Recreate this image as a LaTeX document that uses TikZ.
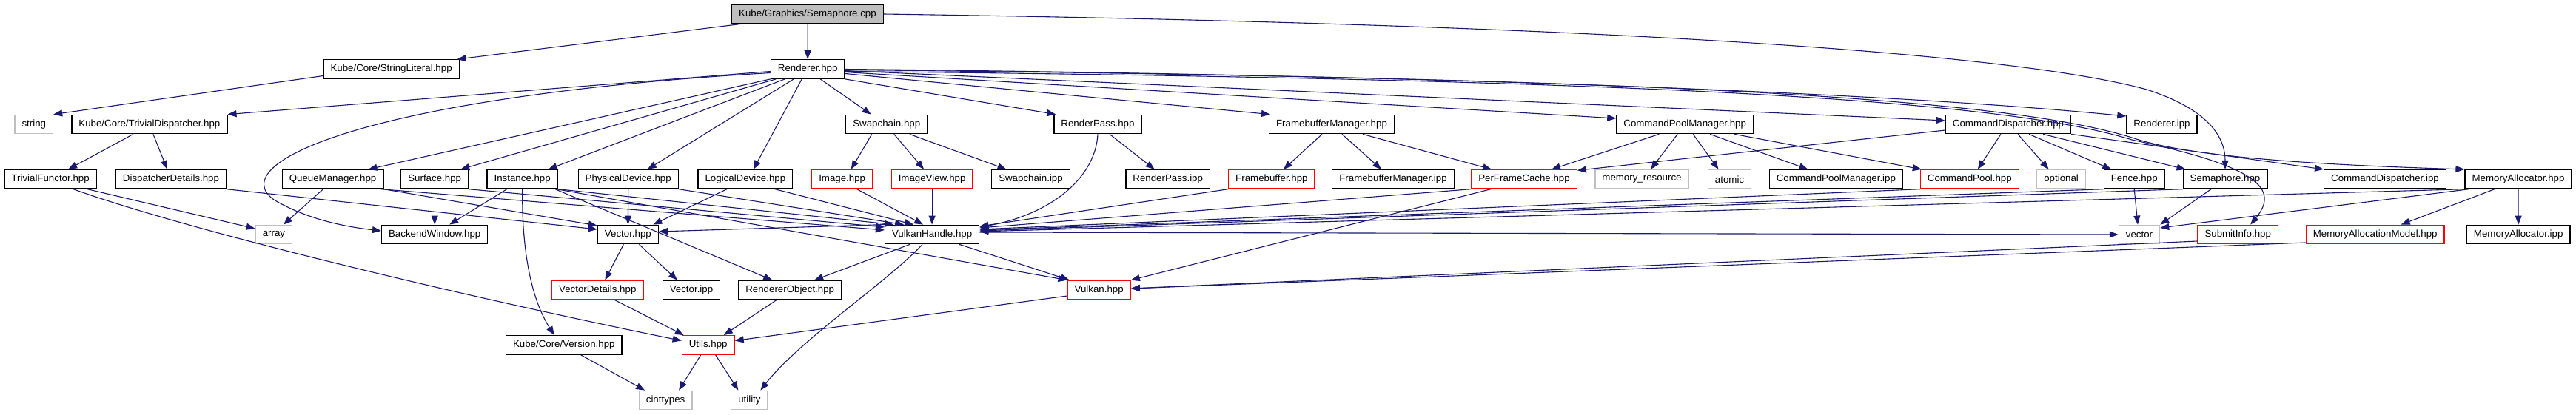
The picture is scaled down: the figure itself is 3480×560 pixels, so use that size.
\documentclass[tikz,border=0pt]{standalone}
\usepackage{fontspec}
\setmainfont{Liberation Sans}
\usepackage{tikz}
\usetikzlibrary{arrows.meta}
\definecolor{depblue}{HTML}{191970}
\definecolor{sysgray}{HTML}{BFBFBF}
\tikzset{
  incbox/.style ={rectangle, draw=black, line width=1.3pt, fill=white,
                  minimum height=25.5pt, inner xsep=9.5pt, inner ysep=0pt,
                  font=\fontsize{13.3}{16}\selectfont},
  incroot/.style={incbox, fill=sysgray},
  incred/.style ={incbox, draw=red},
  incsys/.style ={incbox, draw=sysgray},
  dep/.style    ={-{Triangle[length=12pt,width=9pt]}, line width=1.1pt, draw=depblue}
}

\begin{document}
\begin{tikzpicture}[x=1pt, y=-1pt]
  \useasboundingbox (0,0) rectangle (3480,560);

  \node[incroot] (cpp)      at (1091,19)     {Kube/Graphics/Semaphore.cpp};
  \node[incbox]  (strlit)   at (528.6,93.5)  {Kube/Core/StringLiteral.hpp};
  \node[incbox]  (rend)     at (1091.2,93.5) {Renderer.hpp};

  \node[incsys]  (str)      at (45.8,168)    {string};
  \node[incbox]  (tdisp)    at (201.9,168)   {Kube/Core/TrivialDispatcher.hpp};
  \node[incbox]  (swap)     at (1197.8,168)  {Swapchain.hpp};
  \node[incbox]  (rpass)    at (1483,168)    {RenderPass.hpp};
  \node[incbox]  (fbman)    at (1799,168)    {FramebufferManager.hpp};
  \node[incbox]  (cpman)    at (2276.2,168)  {CommandPoolManager.hpp};
  \node[incbox]  (cdisp)    at (2713,168)    {CommandDispatcher.hpp};
  \node[incbox]  (rendipp)  at (2920.5,168)  {Renderer.ipp};

  \node[incbox]  (tfunc)    at (68.1,242.3)   {TrivialFunctor.hpp};
  \node[incbox]  (ddet)     at (231,242.3)    {DispatcherDetails.hpp};
  \node[incbox]  (qman)     at (449.6,242.3)  {QueueManager.hpp};
  \node[incbox]  (surf)     at (587.2,242.3)  {Surface.hpp};
  \node[incbox]  (inst)     at (705.7,242.3)  {Instance.hpp};
  \node[incbox]  (pdev)     at (848.7,242.3)  {PhysicalDevice.hpp};
  \node[incbox]  (ldev)     at (1006.9,242.3) {LogicalDevice.hpp};
  \node[incred]  (img)      at (1137.7,242.3) {Image.hpp};
  \node[incred]  (imgv)     at (1259.1,242.3) {ImageView.hpp};
  \node[incbox]  (swapipp)  at (1392.5,242.3) {Swapchain.ipp};
  \node[incbox]  (rpassipp) at (1577.7,242.3) {RenderPass.ipp};
  \node[incred]  (fb)       at (1717.9,242.3) {Framebuffer.hpp};
  \node[incbox]  (fbmanipp) at (1882,242.3)   {FramebufferManager.ipp};
  \node[incred]  (pfc)      at (2059,242.3)   {PerFrameCache.hpp};
  \node[incsys]  (memres)   at (2218,242.3)   {memory\_resource};
  \node[incsys]  (atom)     at (2336.5,242.3) {atomic};
  \node[incbox]  (cpmanipp) at (2480.4,242.3) {CommandPoolManager.ipp};
  \node[incred]  (cpool)    at (2660.8,242.3) {CommandPool.hpp};
  \node[incsys]  (opt)      at (2784.6,242.3) {optional};
  \node[incbox]  (fence)    at (2883.2,242.3) {Fence.hpp};
  \node[incbox]  (sema)     at (3006,242.3)   {Semaphore.hpp};
  \node[incbox]  (cdispipp) at (3222,242.3)   {CommandDispatcher.ipp};
  \node[incbox]  (malloc)   at (3402,242.3)   {MemoryAllocator.hpp};

  \node[incsys]  (arr)       at (369.9,317)  {array};
  \node[incbox]  (bwin)      at (587.2,317)  {BackendWindow.hpp};
  \node[incbox]  (vec)       at (848.4,317)  {Vector.hpp};
  \node[incbox]  (vh)        at (1259.1,317) {VulkanHandle.hpp};
  \node[incsys]  (stdvec)    at (2890,317)   {vector};
  \node[incred]  (subinfo)   at (3023.2,317) {SubmitInfo.hpp};
  \node[incred]  (mamodel)   at (3208.7,317) {MemoryAllocationModel.hpp};
  \node[incbox]  (mallocipp) at (3402.2,317) {MemoryAllocator.ipp};

  \node[incred]  (vdet)     at (807.3,392)  {VectorDetails.hpp};
  \node[incbox]  (vecipp)   at (934,392)    {Vector.ipp};
  \node[incbox]  (robj)     at (1067.2,392) {RendererObject.hpp};
  \node[incred]  (vk)       at (1484.7,392) {Vulkan.hpp};

  \node[incbox]  (ver)      at (761.8,466.5) {Kube/Core/Version.hpp};
  \node[incred]  (utils)    at (956.7,466.5) {Utils.hpp};

  \node[incsys]  (cint)     at (899.1,541)  {cinttypes};
  \node[incsys]  (util)     at (1012.4,541) {utility};

  \draw[dep] ([xshift=-90pt]cpp.south) -- ([xshift=89pt]strlit.north);
  \draw[dep] (cpp) -- (rend);
  \draw[dep] (cpp.east) .. controls (2300,35) and (2750,80) .. (2900,121)
             .. controls (2990,150) and (3006,190) .. (sema.north);

  \draw[dep] ([yshift=-9pt]strlit.west) -- (str.north east);

  \draw[dep] ([yshift=-3pt]rend.west) -- (tdisp.north east);
  \draw[dep] ([yshift=-5pt]rend.west) .. controls (500,130) and (300,220) .. (370,270)
             .. controls (420,300) and (480,308) .. ([yshift=5pt]bwin.west);
  \draw[dep] (rend.south west) -- ([xshift=48pt]qman.north);
  \draw[dep] ([xshift=-43pt]rend.south) -- ([xshift=35pt]surf.north);
  \draw[dep] ([xshift=-31pt]rend.south) -- ([xshift=35pt]inst.north);
  \draw[dep] ([xshift=-19pt]rend.south) -- ([xshift=26pt]pdev.north);
  \draw[dep] ([xshift=-8pt]rend.south) -- ([xshift=11pt]ldev.north);
  \draw[dep] ([xshift=17pt]rend.south) -- ([xshift=-21pt]swap.north);
  \draw[dep] (rend.south east) -- ([xshift=3pt]rpass.north west);
  \draw[dep] ([yshift=-6pt]rend.east) -- ([xshift=2pt]fbman.north west);
  \draw[dep] ([yshift=-4pt]rend.east) -- ([yshift=8pt]cpman.west);
  \draw[dep] ([yshift=-2pt]rend.east) -- ([yshift=5pt]cdisp.west);
  \draw[dep] (rend.east) .. controls (1800,100) and (2500,120) .. ([yshift=11pt]rendipp.west);
  \draw[dep] ([yshift=-1pt]rend.east) .. controls (2200,105) and (2700,130) .. (2880,186)
             .. controls (2950,210) and (3100,222) .. (malloc.north west);
  \draw[dep] ([yshift=-3pt]rend.east) .. controls (2200,107) and (2700,133) .. (2880,189)
             .. controls (3050,225) and (3080,255) .. ([xshift=17pt]subinfo.north);

  \draw[dep] (cdisp.south east) -- (cdispipp.north west);
  \draw[dep] ([xshift=47pt]cdisp.south) -- ([xshift=4pt]sema.north west);
  \draw[dep] ([xshift=28pt]cdisp.south) -- ([xshift=-31pt]fence.north);
  \draw[dep] ([xshift=13pt]cdisp.south) -- ([xshift=-17pt]opt.north);
  \draw[dep] ([xshift=-10pt]cdisp.south) -- ([xshift=11pt]cpool.north);
  \draw[dep] ([yshift=-8pt]cdisp.west) -- ([yshift=12pt]pfc.east);

  \draw[dep] ([xshift=-35pt]cpman.south) -- ([xshift=37pt]pfc.north);
  \draw[dep] ([xshift=-10pt]cpman.south) -- ([xshift=12pt]memres.north);
  \draw[dep] ([xshift=11pt]cpman.south) -- ([xshift=-15pt]atom.north);
  \draw[dep] ([xshift=34pt]cpman.south) -- ([xshift=-38pt]cpmanipp.north);
  \draw[dep] ([xshift=67pt]cpman.south) -- ([xshift=-65pt]cpool.north);

  \draw[dep] ([xshift=-13pt]fbman.south) -- ([xshift=16pt]fb.north);
  \draw[dep] ([xshift=14pt]fbman.south) -- ([xshift=-16pt]fbmanipp.north);
  \draw[dep] ([xshift=42pt]fbman.south) -- ([xshift=-44pt]pfc.north);

  \draw[dep] ([xshift=16pt]rpass.south) -- ([xshift=-18pt]rpassipp.north);
  \draw[dep] (rpass.south) .. controls (1480,240) and (1420,290) .. ([yshift=10pt]vh.east);

  \draw[dep] ([xshift=-20pt]swap.south) -- ([xshift=12pt]img.north);
  \draw[dep] ([xshift=10pt]swap.south) -- ([xshift=-11pt]imgv.north);
  \draw[dep] ([xshift=31pt]swap.south) -- ([xshift=-33pt]swapipp.north);

  \draw[dep] ([xshift=-22pt]tdisp.south) -- ([xshift=24pt]tfunc.north);
  \draw[dep] ([xshift=5pt]tdisp.south) -- ([xshift=-5pt]ddet.north);

  \draw[dep] ([xshift=50pt]tfunc.south) -- ([yshift=8pt]arr.west);
  \draw[dep] ([xshift=31pt]tfunc.south) .. controls (250,310) and (600,395) .. ([yshift=6pt]utils.west);
  \draw[dep] (ddet.south east) -- ([yshift=7pt]vec.west);

  \draw[dep] ([xshift=-13pt]qman.south) -- ([xshift=13pt]arr.north);
  \draw[dep] (qman.south east) -- ([yshift=12pt]vec.west);
  \draw[dep] ([xshift=-4pt]qman.south east) -- ([yshift=6pt]vh.west);

  \draw[dep] (surf.south) -- (bwin.north);
  \draw[dep] (surf.south east) -- ([yshift=10pt]vh.west);

  \draw[dep] ([xshift=-21pt]inst.south) -- ([xshift=20pt]bwin.north);
  \draw[dep] (inst.south) .. controls (705,330) and (715,400) .. ([xshift=-13pt]ver.north);
  \draw[dep] (inst.south east) -- ([xshift=-52pt]vh.north);
  \draw[dep] ([xshift=-4pt]inst.south east) -- ([xshift=-24pt]robj.north);
  \draw[dep] ([xshift=-2pt]inst.south east) -- (vk.north west);

  \draw[dep] (pdev.south) -- (vec.north);
  \draw[dep] (pdev.south east) -- ([xshift=-38pt]vh.north);
  \draw[dep] ([xshift=-25pt]ldev.south) -- ([xshift=34pt]vec.north);
  \draw[dep] ([xshift=40pt]ldev.south) -- ([xshift=-25pt]vh.north);
  \draw[dep] ([xshift=20pt]img.south) -- ([xshift=-12pt]vh.north);
  \draw[dep] (imgv.south) -- (vh.north);

  \draw[dep] (fb.south west) -- ([yshift=11pt]vh.east);
  \draw[dep] (pfc.south west) -- ([yshift=9pt]vh.east);
  \draw[dep] ([xshift=-45pt]pfc.south) -- (vk.north east);
  \draw[dep] (cpool.south west) -- ([yshift=7pt]vh.east);
  \draw[dep] (fence.south west) -- ([yshift=6pt]vh.east);
  \draw[dep] (fence.south) -- ([xshift=-2pt]stdvec.north);
  \draw[dep] (sema.south west) -- ([yshift=5pt]vh.east);
  \draw[dep] ([xshift=-19pt]sema.south) -- (stdvec.north east);
  \draw[dep] (malloc.south west) -- ([yshift=4pt]vh.east);
  \draw[dep] ([xshift=6pt]malloc.south west) -- ([yshift=9pt]stdvec.east);
  \draw[dep] ([xshift=-32pt]malloc.south) -- ([xshift=35pt]mamodel.north);
  \draw[dep] (malloc.south) -- (mallocipp.north);

  \draw[dep] (vh.north west) -- ([yshift=4pt]vec.east);
  \draw[dep] ([yshift=3pt]vh.east) -- (stdvec.west);
  \draw[dep] ([xshift=-30pt]vh.south) -- ([xshift=33pt]robj.north);
  \draw[dep] ([xshift=37pt]vh.south) -- ([xshift=-40pt]vk.north);
  \draw[dep] ([xshift=-13pt]vh.south) .. controls (1200,380) and (1080,460) .. ([xshift=15pt]util.north);

  \draw[dep] ([yshift=-9pt]subinfo.west) -- ([yshift=2pt]vk.east);
  \draw[dep] ([yshift=-11pt]mamodel.west) -- ([yshift=2pt]vk.east);

  \draw[dep] ([xshift=-6pt]vec.south) -- ([xshift=10pt]vdet.north);
  \draw[dep] ([xshift=15pt]vec.south) -- ([xshift=-19pt]vecipp.north);
  \draw[dep] ([xshift=23pt]vdet.south) -- ([xshift=-33pt]utils.north);
  \draw[dep] ([xshift=-18pt]robj.south) -- ([xshift=21pt]utils.north);
  \draw[dep] ([yshift=-8pt]vk.west) -- ([yshift=6pt]utils.east);

  \draw[dep] ([xshift=23pt]ver.south) -- ([xshift=-28pt]cint.north);
  \draw[dep] ([xshift=-10pt]utils.south) -- ([xshift=18pt]cint.north);
  \draw[dep] ([xshift=10pt]utils.south) -- ([xshift=-15pt]util.north);
\end{tikzpicture}
\end{document}
